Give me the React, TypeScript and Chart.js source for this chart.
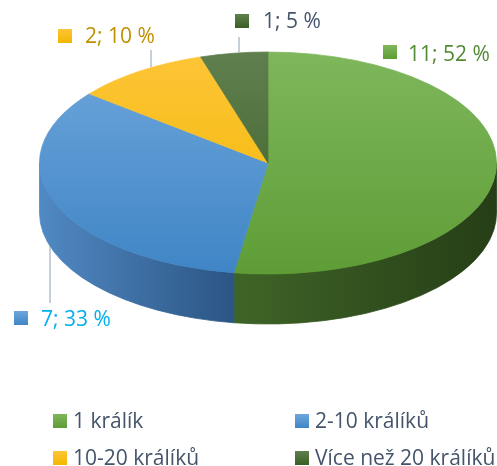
import React, { useEffect, useRef } from "react";
import { Chart, registerables } from "chart.js";

Chart.register(...registerables);

// ---- data ----
const categories = ["1 králík", "2-10 králíků", "10-20 králíků", "Více než 20 králíků"];
const counts = [11, 7, 2, 1];

// ---- styles ----
const topColors = [
  ["#7EB75C", "#5E9D36"],
  ["#6EA6DC", "#3F85C5"],
  ["#FDC537", "#F2B700"],
  ["#607F4F", "#3A5F23"],
];
const sideColors = [
  ["#3F6427", "#263E16"],
  ["#5189C4", "#2B5583"],
  ["#B88A00", "#9C7500"],
  ["#2E4A1C", "#223816"],
];
const labelColors = ["#548A32", "#00B0F0", "#BF9000", "#44546A"];
const legendTextColor = "#44546A";
const leaderColor = "#B4BFCC";
const FONT = '21px "Open Sans", "DejaVu Sans", sans-serif';

// ---- layout ----
const W = 497;
const H = 466;
const ELLIPSE_CY = 163;
const ELLIPSE_RY = 111;
const DEPTH = 50;
const LABEL_LAYOUT = [
  { box: [383, 45], text: [408, 61], leader: null as null | number[] },
  { box: [14, 311], text: [41, 326], leader: [50, 175, 50, 303] },
  { box: [58, 29], text: [85, 43], leader: [151, 50, 151, 67] },
  { box: [235, 14], text: [263, 28], leader: [239, 37, 239, 53] },
];
const LEG_COLS = [53, 295];
const LEG_ROWS = [414, 451];
const BOX = 14;

function boxGradient(ctx: CanvasRenderingContext2D, i: number, y: number, size: number) {
  const g = ctx.createLinearGradient(0, y, 0, y + size);
  g.addColorStop(0, topColors[i][0]);
  g.addColorStop(1, topColors[i][1]);
  return g;
}

const pie3d = {
  id: "pie3d",
  _saved: false,
  beforeDatasetsDraw(chart: any) {
    const ctx: CanvasRenderingContext2D = chart.ctx;
    const meta = chart.getDatasetMeta(0);
    const arcs = meta.data;
    (this as any)._saved = false;
    if (!arcs.length) return;
    const p = arcs[0].getProps(["x", "y", "outerRadius"], true);
    const x = p.x;
    const R = p.outerRadius;
    const sy = ELLIPSE_RY / R;

    // leader lines that sit behind the pie
    LABEL_LAYOUT.forEach((l, i) => {
      if (l.leader && i === 1) {
        ctx.save();
        ctx.strokeStyle = leaderColor;
        ctx.lineWidth = 1.5;
        ctx.beginPath();
        ctx.moveTo(l.leader[0], l.leader[1]);
        ctx.lineTo(l.leader[2], l.leader[3]);
        ctx.stroke();
        ctx.restore();
      }
    });

    // side walls
    arcs.forEach((arc: any, i: number) => {
      const { startAngle, endAngle } = arc.getProps(["startAngle", "endAngle"], true);
      for (const shift of [-2 * Math.PI, 0, 2 * Math.PI]) {
        const s = Math.max(startAngle, shift);
        const e = Math.min(endAngle, shift + Math.PI);
        if (e <= s) continue;
        const a1 = s - shift;
        const a2 = e - shift;
        const xr = x + R * Math.cos(a1);
        const xl = x + R * Math.cos(a2);
        const g = ctx.createLinearGradient(xl, 0, xr, 0);
        g.addColorStop(0, sideColors[i][0]);
        g.addColorStop(1, sideColors[i][1]);
        ctx.save();
        ctx.fillStyle = g;
        ctx.beginPath();
        ctx.ellipse(x, ELLIPSE_CY, R, ELLIPSE_RY, 0, a1, a2, false);
        ctx.ellipse(x, ELLIPSE_CY + DEPTH, R, ELLIPSE_RY, 0, a2, a1, true);
        ctx.closePath();
        ctx.fill();
        ctx.strokeStyle = g;
        ctx.lineWidth = 0.8;
        ctx.stroke();
        ctx.restore();
      }
    });

    ctx.save();
    ctx.translate(x, ELLIPSE_CY);
    ctx.scale(1, sy);
    ctx.translate(-x, -p.y);
    (this as any)._saved = true;
  },
  afterDatasetsDraw(chart: any) {
    if ((this as any)._saved) {
      chart.ctx.restore();
      (this as any)._saved = false;
    }
  },
  afterDraw(chart: any) {
    const ctx: CanvasRenderingContext2D = chart.ctx;
    const data: number[] = chart.data.datasets[0].data;
    const total = data.reduce((a, b) => a + b, 0);
    ctx.save();
    ctx.font = FONT;
    ctx.textBaseline = "alphabetic";
    ctx.textAlign = "left";
    // data labels
    data.forEach((v, i) => {
      const l = LABEL_LAYOUT[i];
      if (l.leader && i !== 1) {
        ctx.strokeStyle = leaderColor;
        ctx.lineWidth = 1.5;
        ctx.beginPath();
        ctx.moveTo(l.leader[0], l.leader[1]);
        ctx.lineTo(l.leader[2], l.leader[3]);
        ctx.stroke();
      }
      ctx.fillStyle = boxGradient(ctx, i, l.box[1], BOX);
      ctx.fillRect(l.box[0], l.box[1], BOX, BOX);
      ctx.fillStyle = labelColors[i];
      ctx.fillText(`${v}; ${Math.round((v / total) * 100)} %`, l.text[0], l.text[1]);
    });
    // legend
    const labels: string[] = chart.data.labels;
    labels.forEach((lab, i) => {
      const bx = LEG_COLS[i % 2];
      const by = LEG_ROWS[Math.floor(i / 2)];
      ctx.fillStyle = boxGradient(ctx, i, by, BOX);
      ctx.fillRect(bx, by, BOX, BOX);
      ctx.fillStyle = legendTextColor;
      ctx.fillText(lab, bx + 20, by + BOX);
    });
    ctx.restore();
  },
};

export default function App() {
  const ref = useRef<HTMLCanvasElement | null>(null);
  useEffect(() => {
    if (!ref.current) return;
    const chart = new Chart(ref.current, {
      type: "pie",
      data: {
        labels: categories,
        datasets: [
          {
            data: counts,
            backgroundColor: (c: any) => {
              const area = c.chart.chartArea;
              const i = c.dataIndex;
              if (!area) return topColors[i][1];
              const g = c.chart.ctx.createLinearGradient(0, area.top, 0, area.bottom);
              g.addColorStop(0, topColors[i][0]);
              g.addColorStop(1, topColors[i][1]);
              return g;
            },
            borderColor: (c: any) => {
              const area = c.chart.chartArea;
              const i = c.dataIndex;
              if (!area) return topColors[i][1];
              const g = c.chart.ctx.createLinearGradient(0, area.top, 0, area.bottom);
              g.addColorStop(0, topColors[i][0]);
              g.addColorStop(1, topColors[i][1]);
              return g;
            },
            borderWidth: 1,
            hoverOffset: 0,
            offset: 0,
          } as any,
        ],
      },
      options: {
        responsive: false,
        animation: false,
        events: [],
        layout: { padding: { left: 39, right: 0, top: 4, bottom: 4 } },
        plugins: {
          legend: { display: false },
          tooltip: { enabled: false },
        },
      },
      plugins: [pie3d as any],
    });
    return () => chart.destroy();
  }, []);
  return (
    <div style={{ position: "fixed", left: 0, top: 0, width: W, height: H, background: "#fff" }}>
      <canvas ref={ref} width={W} height={H} style={{ width: W, height: H, display: "block" }} />
    </div>
  );
}
